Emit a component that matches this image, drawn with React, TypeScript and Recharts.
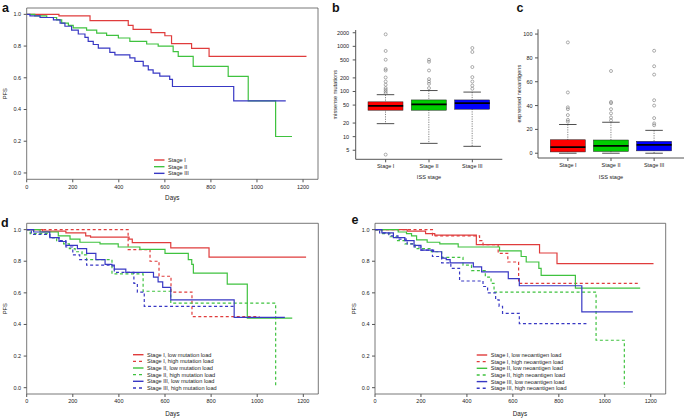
import React from 'react';
import { LineChart, Line, XAxis, YAxis, ReferenceArea, ComposedChart, Bar, Scatter, Cell } from 'recharts';

type Pt = [number, number];

// ---------- Panel a: PFS by ISS stage ----------
const aStageI: Pt[] = [[0, 1], [140, 0.99], [275, 0.96], [441, 0.93], [462, 0.905], [540, 0.885], [600, 0.865], [629, 0.815], [716, 0.785], [792, 0.735], [1215, 0.735]];
const aStageII: Pt[] = [[0, 1], [35, 0.99], [87, 0.98], [130, 0.965], [152, 0.945], [181, 0.93], [202, 0.915], [260, 0.9], [304, 0.882], [347, 0.868], [398, 0.851], [448, 0.83], [521, 0.813], [571, 0.8], [636, 0.765], [658, 0.735], [723, 0.672], [875, 0.609], [962, 0.455], [1081, 0.23], [1152, 0.23]];
const aStageIII: Pt[] = [[0, 1], [14, 0.99], [58, 0.98], [116, 0.965], [145, 0.945], [166, 0.925], [195, 0.9], [224, 0.876], [253, 0.855], [267, 0.83], [289, 0.81], [311, 0.787], [361, 0.76], [383, 0.745], [448, 0.725], [470, 0.703], [506, 0.675], [528, 0.65], [549, 0.63], [578, 0.61], [621, 0.59], [633, 0.545], [899, 0.455], [1125, 0.455]];

// ---------- Panel d: by stage and mutation load ----------
const dStageILow: Pt[] = [[0, 1], [68, 0.99], [170, 0.98], [256, 0.96], [277, 0.952], [444, 0.94], [458, 0.918], [625, 0.885], [791, 0.826], [1212, 0.826]];
const dStageIHigh: Pt[] = [[0, 1], [440, 0.874], [535, 0.8], [574, 0.705], [626, 0.605], [717, 0.45], [1010, 0.45]];
const dStageIILow: Pt[] = [[0, 1], [58, 0.985], [137, 0.96], [188, 0.94], [231, 0.92], [318, 0.91], [397, 0.89], [491, 0.875], [600, 0.85], [701, 0.81], [716, 0.78], [723, 0.725], [870, 0.655], [957, 0.44], [1152, 0.44]];
const dStageIIHigh: Pt[] = [[0, 1], [15, 0.975], [100, 0.95], [130, 0.93], [160, 0.91], [185, 0.88], [210, 0.86], [240, 0.84], [260, 0.81], [370, 0.72], [505, 0.61], [625, 0.535], [1080, 0]];
const dStageIIILow: Pt[] = [[0, 1], [30, 0.985], [100, 0.95], [140, 0.925], [170, 0.9], [220, 0.88], [260, 0.85], [300, 0.81], [340, 0.78], [370, 0.77], [380, 0.75], [430, 0.73], [550, 0.7], [570, 0.67], [590, 0.635], [625, 0.555], [900, 0.445], [1120, 0.445]];
const dStageIIIHigh: Pt[] = [[0, 1], [20, 0.97], [100, 0.95], [140, 0.93], [170, 0.89], [200, 0.84], [230, 0.81], [260, 0.775], [380, 0.73], [465, 0.66], [480, 0.605], [510, 0.515], [905, 0.515]];

// ---------- Panel e: by stage and neoantigen load ----------
const eStageILow: Pt[] = [[0, 1], [140, 0.99], [220, 0.975], [260, 0.965], [441, 0.905], [716, 0.852], [792, 0.785], [1212, 0.785]];
const eStageIHigh: Pt[] = [[0, 1], [250, 0.96], [455, 0.93], [470, 0.905], [536, 0.85], [578, 0.795], [625, 0.66], [1145, 0.66]];
const eStageIILow: Pt[] = [[0, 1], [101, 0.985], [137, 0.975], [159, 0.96], [181, 0.935], [227, 0.92], [282, 0.91], [362, 0.89], [542, 0.865], [636, 0.83], [658, 0.795], [713, 0.755], [723, 0.71], [872, 0.63], [1154, 0.63]];
const eStageIIHigh: Pt[] = [[0, 1], [30, 0.975], [65, 0.955], [95, 0.93], [130, 0.91], [175, 0.88], [245, 0.86], [290, 0.825], [383, 0.775], [420, 0.74], [480, 0.7], [505, 0.66], [518, 0.605], [962, 0.3], [1085, 0]];
const eStageIIILow: Pt[] = [[0, 1], [30, 0.98], [80, 0.95], [130, 0.93], [170, 0.9], [200, 0.87], [255, 0.86], [290, 0.82], [310, 0.81], [327, 0.79], [428, 0.764], [464, 0.733], [580, 0.69], [628, 0.645], [900, 0.48], [1122, 0.48]];
const eStageIIIHigh: Pt[] = [[0, 1], [20, 0.98], [60, 0.96], [100, 0.94], [140, 0.91], [170, 0.89], [200, 0.87], [250, 0.83], [290, 0.79], [330, 0.755], [368, 0.675], [470, 0.64], [490, 0.6], [525, 0.555], [540, 0.515], [555, 0.47], [628, 0.405], [920, 0.405]];

// ---------- Panels b, c: box plots ----------
const stages = ['Stage I', 'Stage II', 'Stage III'];
const bWhiskerLow = [19.4, 7.1, 6.1];
const bQ1 = [38.5, 38.5, 40.5];
const bMedian = [48, 52, 55];
const bQ3 = [59, 65, 65];
const bWhiskerHigh = [85, 105, 97];
const bOutliersI = [1845, 790, 505, 314, 292, 204, 166, 141, 119, 109, 100, 92, 4.0];
const bOutliersII = [505, 456, 292, 188, 166, 148, 119];
const bOutliersIII = [918, 750, 348, 208, 166, 135, 115];

const cWhiskerLow = [0, 0, 0];
const cQ1 = [1.1, 1.5, 2];
const cMedian = [5.2, 6.2, 7];
const cQ3 = [11.3, 11.1, 10];
const cWhiskerHigh = [24.1, 26, 19.2];
const cOutliersI = [93, 51, 38.5, 37, 32, 28, 26.5];
const cOutliersII = [69, 43, 42, 37, 33.5, 30, 27.5];
const cOutliersIII = [86, 73, 66, 44.5, 40, 29.5, 25, 23.5];

const dayTicks = [0, 200, 400, 600, 800, 1000, 1200];
const pfsTicks = [0, 0.2, 0.4, 0.6, 0.8, 1.0];
const bTicks = [5, 10, 20, 50, 100, 200, 500, 1000, 2000];
const cTicks = [0, 20, 40, 60, 80, 100];

const legendA = ['Stage I', 'Stage II', 'Stage III'];
const legendD = ['Stage I, low mutation load', 'Stage I, high mutation load', 'Stage II, low mutation load', 'Stage II, high mutation load', 'Stage III, low mutation load', 'Stage III, high mutation load'];
const legendE = ['Stage I, low neoantigen load', 'Stage I, high neoantigen load', 'Stage II, low neoantigen load', 'Stage II, high neoantigen load', 'Stage III, low neoantigen load', 'Stage III, high neoantigen load'];

// ---------- styles ----------
const FONT = '"Liberation Sans", Arial, Helvetica, sans-serif';
const RED = '#e03c3c';
const GREEN = '#3fc23f';
const BLUE = '#3838c4';
const BOX_FILLS = ['#ff0000', '#00cd00', '#0000ff'];
const AXIS = '#555';
const DASH = '3 2.5';
const tickStyle = { fontSize: 5.5, fill: '#222', fontFamily: FONT };
const X_MAX = 1265;
const Y_DOM: [number, number] = [-0.04, 1.04];

type Series = { pts: Pt[]; color: string; dashed: boolean };

const toRows = (pts: Pt[]) => pts.map(([d, s]) => ({ d, s }));

function KMPanel({ series, width, height, margin, yWidth }: { series: Series[]; width: number; height: number; margin: any; yWidth: number }) {
  return (
    <LineChart width={width} height={height} margin={margin}>
      <XAxis type="number" dataKey="d" domain={[0, X_MAX]} ticks={dayTicks} interval={0} allowDataOverflow
        height={14} tick={tickStyle} tickSize={3} tickMargin={2.5} axisLine={false} stroke={AXIS} />
      <YAxis type="number" domain={Y_DOM} ticks={pfsTicks} interval={0} allowDataOverflow width={yWidth}
        tick={tickStyle} tickSize={3} tickMargin={2.5} axisLine={false} stroke={AXIS}
        tickFormatter={(v: number) => v.toFixed(1)} />
      <ReferenceArea x1={0} x2={X_MAX} y1={Y_DOM[0]} y2={Y_DOM[1]} fill="none" stroke={AXIS} strokeWidth={0.8} fillOpacity={0} />
      {series.map((s, i) => (
        <Line key={i} data={toRows(s.pts)} dataKey="s" type="stepAfter" stroke={s.color}
          strokeWidth={1.2} strokeDasharray={s.dashed ? DASH : undefined} dot={false} activeDot={false}
          isAnimationActive={false} />
      ))}
    </LineChart>
  );
}

const WhiskerShape = (p: any) => {
  const cx = p.x + p.width / 2;
  const cap = p.width / 4;
  return (
    <g>
      <line x1={cx} x2={cx} y1={p.y} y2={p.y + p.height} stroke="#333" strokeWidth={0.6} strokeDasharray="1.2 1.2" />
      <line x1={cx - cap} x2={cx + cap} y1={p.y} y2={p.y} stroke="#222" strokeWidth={0.8} />
      <line x1={cx - cap} x2={cx + cap} y1={p.y + p.height} y2={p.y + p.height} stroke="#222" strokeWidth={0.8} />
    </g>
  );
};
const BoxShape = (p: any) => (
  <rect x={p.x} y={p.y} width={p.width} height={p.height} fill={p.fill} stroke="#222" strokeWidth={0.5} />
);
const MedianShape = (p: any) => (
  <line x1={p.cx - 17.5} x2={p.cx + 17.5} y1={p.cy} y2={p.cy} stroke="#000" strokeWidth={1.8} />
);
const OutlierShape = (p: any) => (
  <circle cx={p.cx} cy={p.cy} r={1.5} fill="none" stroke="#777" strokeWidth={0.6} />
);

function buildRows(lo: number[], q1: number[], med: number[], q3: number[], hi: number[]) {
  return stages.map((s, i) => ({ stage: s, whisker: [lo[i], hi[i]], box: [q1[i], q3[i]], median: med[i] }));
}
function buildOutliers(lists: number[][]) {
  return lists.flatMap((vals, i) => vals.map((v) => ({ stage: stages[i], v })));
}

function BoxPanel({ rows, outliers, width, height, margin, yWidth, scale, domain, ticks, tickMargin }: any) {
  const pad = { left: 8.3, right: 8.3 };
  return (
    <ComposedChart width={width} height={height} data={rows} margin={margin}>
      <XAxis xAxisId="box" dataKey="stage" type="category" allowDuplicatedCategory={false} padding={pad}
        height={14} tick={tickStyle} tickSize={3} tickMargin={2} stroke={AXIS} interval={0} />
      <XAxis xAxisId="whisker" dataKey="stage" type="category" allowDuplicatedCategory={false} padding={pad} hide />
      <XAxis xAxisId="top" orientation="top" dataKey="stage" type="category" allowDuplicatedCategory={false}
        height={0} tick={false} tickLine={false} stroke={AXIS} />
      <YAxis yAxisId="left" type="number" scale={scale} domain={domain} ticks={ticks} interval={0} allowDataOverflow
        width={yWidth} tick={tickStyle} tickSize={3} tickMargin={tickMargin} stroke={AXIS} />
      <YAxis yAxisId="right" orientation="right" width={0} tick={false} tickLine={false} stroke={AXIS} />
      <Bar xAxisId="whisker" yAxisId="left" dataKey="whisker" barSize={35} shape={WhiskerShape} isAnimationActive={false} />
      <Bar xAxisId="box" yAxisId="left" dataKey="box" barSize={35} shape={BoxShape} isAnimationActive={false}>
        {rows.map((_: any, i: number) => <Cell key={i} fill={BOX_FILLS[i]} />)}
      </Bar>
      <Scatter xAxisId="box" yAxisId="left" dataKey="median" shape={MedianShape} isAnimationActive={false} />
      <Scatter xAxisId="box" yAxisId="left" data={outliers} dataKey="v" shape={OutlierShape} isAnimationActive={false} />
    </ComposedChart>
  );
}

function LegendBlock({ labels, colors, dashed, x, y, step }: { labels: string[]; colors: string[]; dashed: boolean[]; x: number; y: number; step: number }) {
  return (
    <g>
      {labels.map((l, i) => (
        <g key={l}>
          <line x1={x} x2={x + 10.5} y1={y + i * step} y2={y + i * step} stroke={colors[i]} strokeWidth={1.4}
            strokeDasharray={dashed[i] ? '3 3' : undefined} />
          <text x={x + 14} y={y + i * step} fontSize={5.6} fill="#222" dominantBaseline="central" fontFamily={FONT}>{l}</text>
        </g>
      ))}
    </g>
  );
}

export default function App() {
  const seriesA: Series[] = [
    { pts: aStageI, color: RED, dashed: false },
    { pts: aStageII, color: GREEN, dashed: false },
    { pts: aStageIII, color: BLUE, dashed: false },
  ];
  const seriesD: Series[] = [
    { pts: dStageILow, color: RED, dashed: false },
    { pts: dStageIHigh, color: RED, dashed: true },
    { pts: dStageIILow, color: GREEN, dashed: false },
    { pts: dStageIIHigh, color: GREEN, dashed: true },
    { pts: dStageIIILow, color: BLUE, dashed: false },
    { pts: dStageIIIHigh, color: BLUE, dashed: true },
  ];
  const seriesE: Series[] = [
    { pts: eStageILow, color: RED, dashed: false },
    { pts: eStageIHigh, color: RED, dashed: true },
    { pts: eStageIILow, color: GREEN, dashed: false },
    { pts: eStageIIHigh, color: GREEN, dashed: true },
    { pts: eStageIIILow, color: BLUE, dashed: false },
    { pts: eStageIIIHigh, color: BLUE, dashed: true },
  ];
  const bRows = buildRows(bWhiskerLow, bQ1, bMedian, bQ3, bWhiskerHigh);
  const bOut = buildOutliers([bOutliersI, bOutliersII, bOutliersIII]);
  const cRows = buildRows(cWhiskerLow, cQ1, cMedian, cQ3, cWhiskerHigh);
  const cOut = buildOutliers([cOutliersI, cOutliersII, cOutliersIII]);
  const six = [RED, RED, GREEN, GREEN, BLUE, BLUE];
  const sixDash = [false, true, false, true, false, true];

  return (
    <div style={{ position: 'absolute', left: 0, top: 0, width: 685, height: 419, background: '#fff', overflow: 'hidden', fontFamily: FONT }}>
      <div style={{ position: 'absolute', left: 0, top: 0 }}>
        <KMPanel series={seriesA} width={330} height={205} margin={{ top: 8, right: 12, bottom: 11.7, left: 0 }} yWidth={26.7} />
      </div>
      <div style={{ position: 'absolute', left: 0, top: 215 }}>
        <KMPanel series={seriesD} width={330} height={204} margin={{ top: 8.3, right: 11.7, bottom: 11, left: 0 }} yWidth={26.7} />
      </div>
      <div style={{ position: 'absolute', left: 345, top: 215 }}>
        <KMPanel series={seriesE} width={330} height={204} margin={{ top: 8.3, right: 9.3, bottom: 11, left: 0 }} yWidth={30} />
      </div>
      <div style={{ position: 'absolute', left: 320, top: 0 }}>
        <BoxPanel rows={bRows} outliers={bOut} width={190} height={190} margin={{ top: 30, right: 7.7, bottom: 16.7, left: 0 }}
          yWidth={35.7} scale="log" domain={[3.15, 2300]} ticks={bTicks} tickMargin={3.5} />
      </div>
      <div style={{ position: 'absolute', left: 505, top: 0 }}>
        <BoxPanel rows={cRows} outliers={cOut} width={180} height={190} margin={{ top: 29.3, right: 1, bottom: 18, left: 0 }}
          yWidth={33} scale="linear" domain={[-4, 104]} ticks={cTicks} tickMargin={2.5} />
      </div>
      <svg width={685} height={419} style={{ position: 'absolute', left: 0, top: 0, pointerEvents: 'none' }} fontFamily={FONT}>
        <text x={2} y={11.5} fontSize={12.5} fontWeight="bold" fill="#111">a</text>
        <text x={332} y={12} fontSize={12.5} fontWeight="bold" fill="#111">b</text>
        <text x={516.5} y={11.5} fontSize={12.5} fontWeight="bold" fill="#111">c</text>
        <text x={1} y={227} fontSize={12.5} fontWeight="bold" fill="#111">d</text>
        <text x={351.5} y={224} fontSize={12.5} fontWeight="bold" fill="#111">e</text>

        <text x={172.3} y={200} fontSize={6.3} textAnchor="middle" fill="#222">Days</text>
        <text transform="translate(5,93.7) rotate(-90)" fontSize={5.8} textAnchor="middle" dominantBaseline="central" fill="#222">PFS</text>
        <text x={172.5} y={416} fontSize={6.3} textAnchor="middle" fill="#222">Days</text>
        <text transform="translate(5,308.7) rotate(-90)" fontSize={5.8} textAnchor="middle" dominantBaseline="central" fill="#222">PFS</text>
        <text x={520} y={416} fontSize={6.3} textAnchor="middle" fill="#222">Days</text>
        <text transform="translate(353.5,308.7) rotate(-90)" fontSize={5.8} textAnchor="middle" dominantBaseline="central" fill="#222">PFS</text>

        <text transform="translate(335,94.7) rotate(-90)" fontSize={5.6} textAnchor="middle" dominantBaseline="central" fill="#222">missense mutations</text>
        <text x={429} y={178.5} fontSize={5.6} textAnchor="middle" fill="#222">ISS stage</text>
        <text transform="translate(519,93.7) rotate(-90)" fontSize={5.6} textAnchor="middle" dominantBaseline="central" fill="#222">expressed neoantigens</text>
        <text x={611} y={178.5} fontSize={5.6} textAnchor="middle" fill="#222">ISS stage</text>

        <LegendBlock labels={legendA} colors={[RED, GREEN, BLUE]} dashed={[false, false, false]} x={154} y={160} step={6.67} />
        <LegendBlock labels={legendD} colors={six} dashed={sixDash} x={133} y={354.7} step={6.65} />
        <LegendBlock labels={legendE} colors={six} dashed={sixDash} x={476.7} y={355} step={6.65} />
      </svg>
    </div>
  );
}
